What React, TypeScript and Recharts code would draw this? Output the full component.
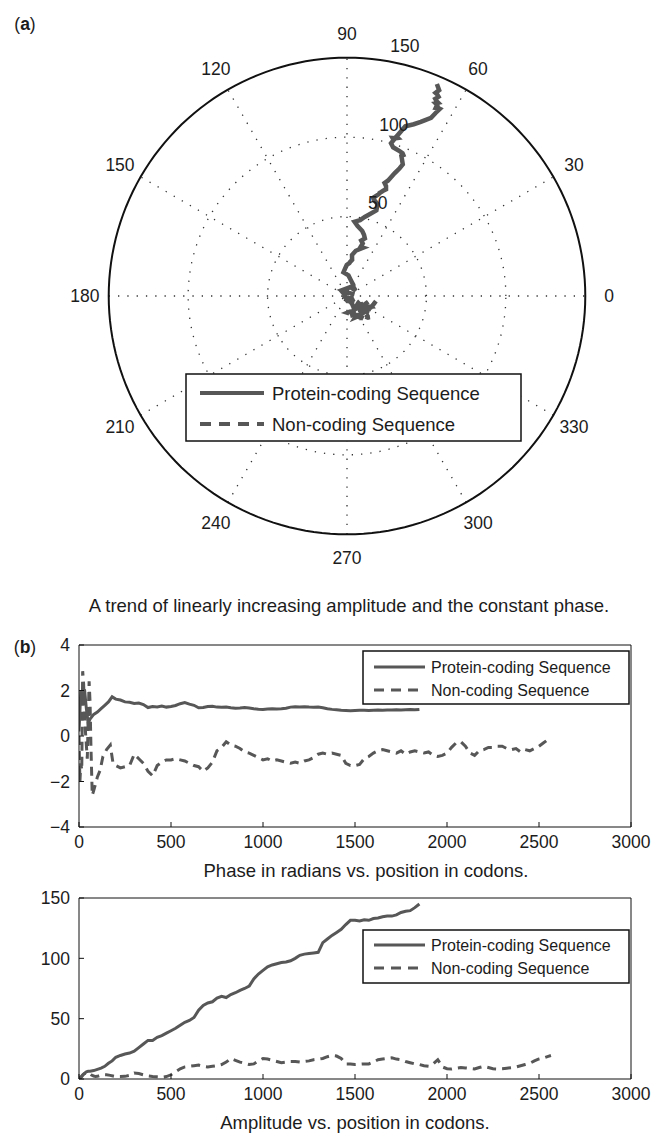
import React from "react";
import {
  ComposedChart,
  LineChart,
  Line,
  Scatter,
  XAxis,
  YAxis,
  ReferenceLine,
} from "recharts";

// ---- data ----
const seriesNames = ["Protein-coding Sequence", "Non-coding Sequence"];

const codingPos = [
  0, 10, 20, 30, 40, 50, 60, 80, 100, 120, 140, 160, 180, 200, 225, 250, 275,
  300, 325, 350, 375, 400, 425, 450, 475, 500, 525, 550, 575, 600, 625, 650,
  675, 700, 725, 750, 775, 800, 825, 850, 875, 900, 925, 950, 975, 1000, 1025,
  1050, 1075, 1100, 1125, 1150, 1175, 1200, 1225, 1250, 1275, 1300, 1325, 1350,
  1375, 1400, 1425, 1450, 1475, 1500, 1525, 1550, 1575, 1600, 1625, 1650, 1675,
  1700, 1725, 1750, 1775, 1800, 1825, 1850,
];
const codingPhase = [
  0.2, 2.0, 1.6, 2.05, 1.2, 0.55, 0.75, 0.95, 1.05, 1.2, 1.35, 1.5, 1.72, 1.62,
  1.58, 1.5, 1.48, 1.43, 1.45, 1.38, 1.25, 1.3, 1.28, 1.32, 1.27, 1.3, 1.34,
  1.42, 1.47, 1.4, 1.35, 1.24, 1.25, 1.3, 1.31, 1.27, 1.26, 1.27, 1.24, 1.22,
  1.23, 1.25, 1.23, 1.2, 1.18, 1.17, 1.19, 1.2, 1.19, 1.2, 1.22, 1.27, 1.29,
  1.28, 1.29, 1.27, 1.26, 1.27, 1.24, 1.2, 1.17, 1.15, 1.13, 1.12, 1.11, 1.12,
  1.13, 1.13, 1.12, 1.13, 1.14, 1.13, 1.14, 1.14, 1.15, 1.14, 1.15, 1.16, 1.15,
  1.17,
];
const codingAmp = [
  0, 1.5, 3.5, 4.5, 6, 6.4, 6.5, 7, 8, 9, 10.5, 13, 15, 18, 19.5, 20.7, 21.5,
  23, 26, 29, 32, 32, 34.5, 36, 38, 40, 42, 44.5, 47, 48.5, 51, 57, 61, 63, 64,
  67, 68.5, 67.5, 70, 71.5, 73.5, 75, 77, 83, 87, 90, 93, 94.5, 95.5, 96.5, 97,
  98, 100, 102.5, 103.5, 104, 104.5, 105, 113, 116, 119, 121.5, 124, 128, 131.5,
  131.5, 131, 132, 131.5, 133, 133.5, 134.5, 135, 135, 136, 138, 139, 139.5,
  142, 145,
];

const noncodingPos = [
  0, 5, 10, 15, 20, 25, 35, 45, 55, 60, 65, 72, 80, 90, 100, 115, 130, 150, 170,
  185, 200, 225, 250, 275, 300, 325, 350, 375, 400, 425, 450, 475, 500, 525,
  550, 575, 600, 625, 650, 675, 700, 725, 750, 775, 800, 825, 850, 875, 900,
  925, 950, 975, 1000, 1025, 1050, 1075, 1100, 1125, 1150, 1175, 1200, 1225,
  1250, 1275, 1300, 1325, 1350, 1375, 1400, 1425, 1450, 1475, 1500, 1525, 1550,
  1575, 1600, 1625, 1650, 1675, 1700, 1725, 1750, 1775, 1800, 1825, 1850, 1875,
  1900, 1925, 1950, 1975, 2000, 2025, 2050, 2075, 2100, 2125, 2150, 2175, 2200,
  2225, 2250, 2275, 2300, 2325, 2350, 2375, 2400, 2425, 2450, 2475, 2500, 2525,
  2550, 2565,
];
const noncodingPhase = [
  0, -2.0, -1.2, -1.5, 2.85, 2.3, 0.2, -1.0, 2.4, 1.5, -0.5, -2.6, -2.4, -2.1,
  -1.8, -1.5, -0.9, -0.6, -0.4, -1.2, -1.3, -1.4, -1.35, -1.3, -0.8, -1.0, -1.2,
  -1.55, -1.75, -1.3, -1.15, -1.05, -1.05, -1.0, -1.05, -1.1, -1.2, -1.3, -1.35,
  -1.55, -1.4, -1.15, -0.65, -0.5, -0.25, -0.4, -0.45, -0.55, -0.7, -0.75,
  -0.85, -0.95, -1.05, -1.0, -1.1, -1.05, -1.1, -1.15, -1.2, -1.15, -1.2, -1.1,
  -1.05, -0.95, -0.8, -0.75, -0.8, -0.75, -0.8, -0.85, -1.2, -1.3, -1.3, -1.25,
  -1.0, -0.9, -0.75, -0.65, -0.6, -0.65, -0.7, -0.75, -0.65, -0.8, -0.7, -0.65,
  -0.7, -0.75, -0.7, -0.85, -0.9, -0.85, -0.75, -0.5, -0.3, -0.25, -0.45,
  -0.75, -0.85, -0.65, -0.6, -0.5, -0.5, -0.45, -0.45, -0.55, -0.6, -0.55, -0.7,
  -0.6, -0.65, -0.55, -0.45, -0.3, -0.15, -0.1,
];
const noncodingAmp = [
  0, 0.5, 1.5, 2, 3, 4, 5, 5.5, 4.5, 4, 3.5, 3, 2.5, 2, 2.2, 3, 3.5, 3.5, 3,
  2.5, 2, 2, 2.2, 3, 5, 4.5, 3.5, 2.5, 2, 1.8, 1.5, 2, 3.5, 6, 8.5, 10, 10.5, 11,
  11.5, 10.5, 10, 10.5, 11, 12, 14, 17, 15.5, 14, 13, 12, 12.5, 15, 17, 16.5,
  15.5, 14.5, 13.5, 14, 14.5, 14.5, 14, 14.5, 15, 16, 16.5, 17, 18.5, 19.5, 19,
  17, 12.5, 12.5, 12, 12.2, 12.5, 12.5, 14, 16, 16.5, 17, 17.5, 16.5, 16, 14.5,
  13.5, 12.5, 12, 11, 10.5, 12.5, 16, 10, 8.5, 8.3, 9, 9.5, 9.2, 8.8, 8.3, 9.5,
  10.5, 9.5, 8.5, 8.3, 8.5, 9, 9.4, 10, 11, 12, 13, 15, 16.6, 17.5, 18.8, 19.5,
];

const angleTicks = [0, 30, 60, 90, 120, 150, 180, 210, 240, 270, 300, 330];
const spokeAngles = [0, 30, 60, 90, 120, 150];
const ringRadii = [50, 100];
const rMax = 150;
const radiusLabels = [50, 100, 150];
const xTicks = [0, 500, 1000, 1500, 2000, 2500, 3000];
const phaseTicks = [-4, -2, 0, 2, 4];
const ampTicks = [0, 50, 100, 150];

// ---- styling ----
const GREY = "#575757";
const INK = "#1c1c1c";
const FONT = '"Liberation Sans", Arial, Helvetica, sans-serif';
const rad = (d: number) => (d * Math.PI) / 180;

function ring(r: number) {
  const pts: { x: number; y: number }[] = [];
  for (let d = 0; d <= 360; d += 2) {
    pts.push({ x: r * Math.cos(rad(d)), y: r * Math.sin(rad(d)) });
  }
  return pts;
}

const toPolar = (amp: number[], phase: number[]) =>
  amp.map((a, i) => ({ x: a * Math.cos(phase[i]), y: a * Math.sin(phase[i]) }));

const polarCoding = toPolar(codingAmp, codingPhase);
const polarNoncoding = toPolar(noncodingAmp, noncodingPhase);

const angleLabelPts = angleTicks.map((a) => ({
  x: rMax * 1.1 * Math.cos(rad(a)),
  y: rMax * 1.1 * Math.sin(rad(a)),
  label: String(a),
}));
const radiusLabelPts = radiusLabels.map((r) => ({
  x: (r + 2.5) * Math.cos(rad(82)),
  y: (r + 2.5) * Math.sin(rad(82)),
  label: String(r),
}));

function AngleLabel(p: any) {
  return (
    <text
      x={p.cx}
      y={p.cy}
      textAnchor="middle"
      dominantBaseline="central"
      fontSize={17.5}
      fill={INK}
    >
      {p.payload.label}
    </text>
  );
}

function RadiusLabel(p: any) {
  return (
    <text x={p.cx + 9.5} y={p.cy - 4} textAnchor="start" fontSize={17.5} fill={INK}>
      {p.payload.label}
    </text>
  );
}

function PolarPanel() {
  const dots = "1.3 8";
  return (
    <ComposedChart width={556} height={556} margin={{ top: 0, right: 0, bottom: 0, left: 0 }}>
      <XAxis type="number" dataKey="x" domain={[-175, 175]} allowDataOverflow hide />
      <YAxis type="number" dataKey="y" domain={[-175, 175]} allowDataOverflow hide />
      {spokeAngles.map((a) => (
        <ReferenceLine
          key={a}
          segment={[
            { x: -rMax * Math.cos(rad(a)), y: -rMax * Math.sin(rad(a)) },
            { x: rMax * Math.cos(rad(a)), y: rMax * Math.sin(rad(a)) },
          ]}
          stroke="#333"
          strokeWidth={1.3}
          strokeDasharray={dots}
        />
      ))}
      {ringRadii.map((r) => (
        <Line
          key={r}
          data={ring(r)}
          dataKey="y"
          stroke="#333"
          strokeWidth={1.3}
          strokeDasharray={dots}
          dot={false}
          isAnimationActive={false}
        />
      ))}
      <Line
        data={ring(rMax)}
        dataKey="y"
        stroke="#111"
        strokeWidth={2}
        dot={false}
        isAnimationActive={false}
      />
      <Line
        data={polarNoncoding}
        dataKey="y"
        stroke={GREY}
        strokeWidth={4.5}
        strokeDasharray="10 6"
        dot={false}
        isAnimationActive={false}
      />
      <Line
        data={polarCoding}
        dataKey="y"
        stroke={GREY}
        strokeWidth={4.5}
        dot={false}
        isAnimationActive={false}
      />
      <Scatter data={angleLabelPts} shape={AngleLabel} isAnimationActive={false} />
      <Scatter data={radiusLabelPts} shape={RadiusLabel} isAnimationActive={false} />
    </ComposedChart>
  );
}

const fmtTick = (v: number) => (v < 0 ? `\u2212${-v}` : `${v}`);

function LinePanel({
  plotTop,
  plotBottom,
  domain,
  ticks,
  coding,
  noncoding,
}: {
  plotTop: number;
  plotBottom: number;
  domain: [number, number];
  ticks: number[];
  coding: number[];
  noncoding: number[];
}) {
  const codingData = codingPos.map((p, i) => ({ pos: p, value: coding[i] }));
  const noncodingData = noncodingPos.map((p, i) => ({ pos: p, value: noncoding[i] }));
  const height = plotBottom - plotTop + 15 + 43;
  // negative tickSize turns the ticks inward, like the original figure
  const axisCommon = {
    stroke: "#111",
    tickSize: -5,
    tickLine: { stroke: "#111", strokeWidth: 1 },
    allowDataOverflow: true,
  };
  return (
    <div style={{ position: "absolute", left: 0, top: plotTop - 15 }}>
      <LineChart width={651} height={height} margin={{ top: 14, right: 19, bottom: 13, left: 0 }}>
        <XAxis
          xAxisId="b"
          type="number"
          dataKey="pos"
          domain={[0, 3000]}
          ticks={xTicks}
          height={30}
          tickMargin={14}
          tick={{ fontSize: 17.5, fill: INK }}
          {...axisCommon}
        />
        <XAxis
          xAxisId="t"
          orientation="top"
          type="number"
          dataKey="pos"
          domain={[0, 3000]}
          ticks={xTicks}
          height={1}
          tick={false}
          {...axisCommon}
        />
        <YAxis
          yAxisId="l"
          type="number"
          domain={domain}
          ticks={ticks}
          width={79}
          tickMargin={14}
          tickFormatter={fmtTick}
          tick={{ fontSize: 17.5, fill: INK }}
          {...axisCommon}
        />
        <YAxis
          yAxisId="r"
          orientation="right"
          type="number"
          domain={domain}
          ticks={ticks}
          width={1}
          tick={false}
          {...axisCommon}
        />
        <Line
          xAxisId="b"
          yAxisId="l"
          data={noncodingData}
          dataKey="value"
          stroke={GREY}
          strokeWidth={3}
          strokeDasharray="9 6"
          dot={false}
          isAnimationActive={false}
        />
        <Line
          xAxisId="b"
          yAxisId="l"
          data={codingData}
          dataKey="value"
          stroke={GREY}
          strokeWidth={3}
          dot={false}
          isAnimationActive={false}
        />
      </LineChart>
    </div>
  );
}

function LegendBox({
  x,
  y,
  w,
  h,
  rows,
  lineX1,
  lineX2,
  textX,
  fontSize,
  strokeWidth,
  dash,
}: {
  x: number;
  y: number;
  w: number;
  h: number;
  rows: [number, number];
  lineX1: number;
  lineX2: number;
  textX: number;
  fontSize: number;
  strokeWidth: number;
  dash: string;
}) {
  return (
    <g>
      <rect x={x} y={y} width={w} height={h} fill="#fff" stroke="#111" strokeWidth={1.5} />
      <line x1={lineX1} x2={lineX2} y1={rows[0]} y2={rows[0]} stroke={GREY} strokeWidth={strokeWidth} />
      <line
        x1={lineX1}
        x2={lineX2}
        y1={rows[1]}
        y2={rows[1]}
        stroke={GREY}
        strokeWidth={strokeWidth}
        strokeDasharray={dash}
      />
      {seriesNames.map((n, i) => (
        <text key={n} x={textX} y={rows[i]} dominantBaseline="central" fontSize={fontSize} fill={INK}>
          {n}
        </text>
      ))}
    </g>
  );
}

function PanelLabel({ x, y, letter }: { x: number; y: number; letter: string }) {
  return (
    <text x={x} y={y} textAnchor="middle" dominantBaseline="central" fontSize={17.5} fill={INK}>
      (<tspan fontWeight="bold">{letter}</tspan>)
    </text>
  );
}

export default function App() {
  return (
    <div
      style={{
        position: "relative",
        width: 651,
        height: 1134,
        background: "#fff",
        fontFamily: FONT,
        overflow: "hidden",
      }}
    >
      <style>{"body{margin:0}"}</style>
      <div style={{ position: "absolute", left: 69, top: 18 }}>
        <PolarPanel />
      </div>
      <LinePanel
        plotTop={645}
        plotBottom={827}
        domain={[-4, 4]}
        ticks={phaseTicks}
        coding={codingPhase}
        noncoding={noncodingPhase}
      />
      <LinePanel
        plotTop={898}
        plotBottom={1079}
        domain={[0, 150]}
        ticks={ampTicks}
        coding={codingAmp}
        noncoding={noncodingAmp}
      />
      <svg
        width={651}
        height={1134}
        style={{ position: "absolute", left: 0, top: 0, pointerEvents: "none" }}
        fontFamily={FONT}
      >
        <PanelLabel x={25} y={24} letter="a" />
        <PanelLabel x={25} y={647} letter="b" />
        <LegendBox
          x={186}
          y={374}
          w={335}
          h={67}
          rows={[393, 424]}
          lineX1={200}
          lineX2={264}
          textX={272}
          fontSize={18.5}
          strokeWidth={4}
          dash="11 8"
        />
        <LegendBox
          x={363}
          y={651}
          w={266}
          h={53}
          rows={[667, 690]}
          lineX1={374}
          lineX2={425}
          textX={431}
          fontSize={16}
          strokeWidth={3}
          dash="10 7"
        />
        <LegendBox
          x={363}
          y={930}
          w={266}
          h={53}
          rows={[945, 968]}
          lineX1={374}
          lineX2={425}
          textX={431}
          fontSize={16}
          strokeWidth={3}
          dash="10 7"
        />
        <text x={349} y={605} textAnchor="middle" dominantBaseline="central" fontSize={18.5} fill={INK}>
          A trend of linearly increasing amplitude and the constant phase.
        </text>
        <text x={366} y={870} textAnchor="middle" dominantBaseline="central" fontSize={18.5} fill={INK}>
          Phase in radians vs. position in codons.
        </text>
        <text x={355} y={1122} textAnchor="middle" dominantBaseline="central" fontSize={18.5} fill={INK}>
          Amplitude vs. position in codons.
        </text>
      </svg>
    </div>
  );
}
